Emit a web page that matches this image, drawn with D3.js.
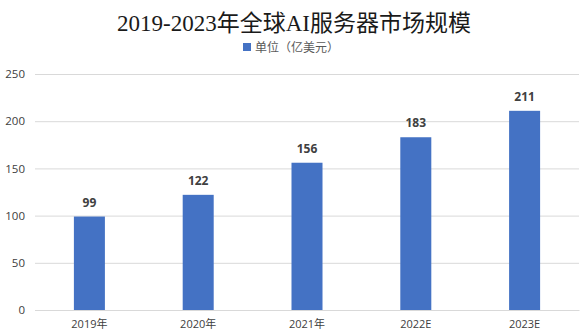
<!DOCTYPE html>
<html><head><meta charset="utf-8">
<script src="https://cdn.jsdelivr.net/npm/d3@7/dist/d3.min.js"></script>
<style>body{margin:0;background:#fff}svg{display:block}</style>
</head><body>
<svg id="c" width="588" height="333"></svg>
<script>
const categories = ["2019年","2020年","2021年","2022E","2023E"];
const values = [99,122,156,183,211];
const yTicks = [0,50,100,150,200,250];
const title = "2019-2023年全球AI服务器市场规模";
const legendLabel = "单位（亿美元）";

(function(){
const svg = d3.select("#c");
const mL = 35, mR = 579, mT = 74, mB = 310;
const x = d3.scaleBand().domain(categories).range([mL,mR]).paddingInner(0.715).paddingOuter(0.3575);
const y = d3.scaleLinear().domain([0,250]).range([mB,mT]);

svg.append("text").attr("x",294).attr("y",31).attr("text-anchor","middle")
  .attr("font-family","'Liberation Serif','DejaVu Serif','Noto Sans CJK SC',serif")
  .attr("font-size",23).attr("fill","#1a1a1a").text(title);

const lg = svg.append("g");
lg.append("rect").attr("x",243).attr("y",43).attr("width",8).attr("height",8).attr("fill","#4472C4");
lg.append("text").attr("x",255).attr("y",51.5).attr("font-family","'Noto Sans CJK SC',sans-serif")
  .attr("font-size",12).attr("fill","#595959").text(legendLabel);

const yAxis = d3.axisLeft(y).tickValues(yTicks).tickSize(-(mR-mL)).tickPadding(10);
const ga = svg.append("g").attr("transform",`translate(${mL},0)`).call(yAxis);
ga.select(".domain").remove();
ga.selectAll(".tick line").attr("stroke","#d9d9d9").attr("stroke-width",1);
ga.selectAll(".tick text").attr("font-family","'Open Sans','DejaVu Sans',sans-serif").attr("font-size",11.5).attr("fill","#404040");

svg.selectAll("rect.bar").data(values).join("rect").attr("class","bar")
  .attr("x",(d,i)=>x(categories[i])).attr("width",x.bandwidth())
  .attr("y",d=>y(d)).attr("height",d=>y(0)-y(d)).attr("fill","#4472C4");

svg.selectAll("text.val").data(values).join("text").attr("class","val")
  .attr("x",(d,i)=>x(categories[i])+x.bandwidth()/2).attr("y",d=>y(d)-10)
  .attr("text-anchor","middle").attr("font-family","'Open Sans','DejaVu Sans',sans-serif")
  .attr("font-weight","bold").attr("font-size",12).attr("fill","#404040").text(d=>d);

const xAxis = d3.axisBottom(x).tickSize(0).tickPadding(10);
const gx = svg.append("g").attr("transform",`translate(0,${mB})`).call(xAxis);
gx.select(".domain").attr("stroke","#d9d9d9");
gx.selectAll(".tick text").attr("font-family","'Open Sans','Noto Sans CJK SC',sans-serif").attr("font-size",11).attr("fill","#404040");
})();
</script>
</body></html>
